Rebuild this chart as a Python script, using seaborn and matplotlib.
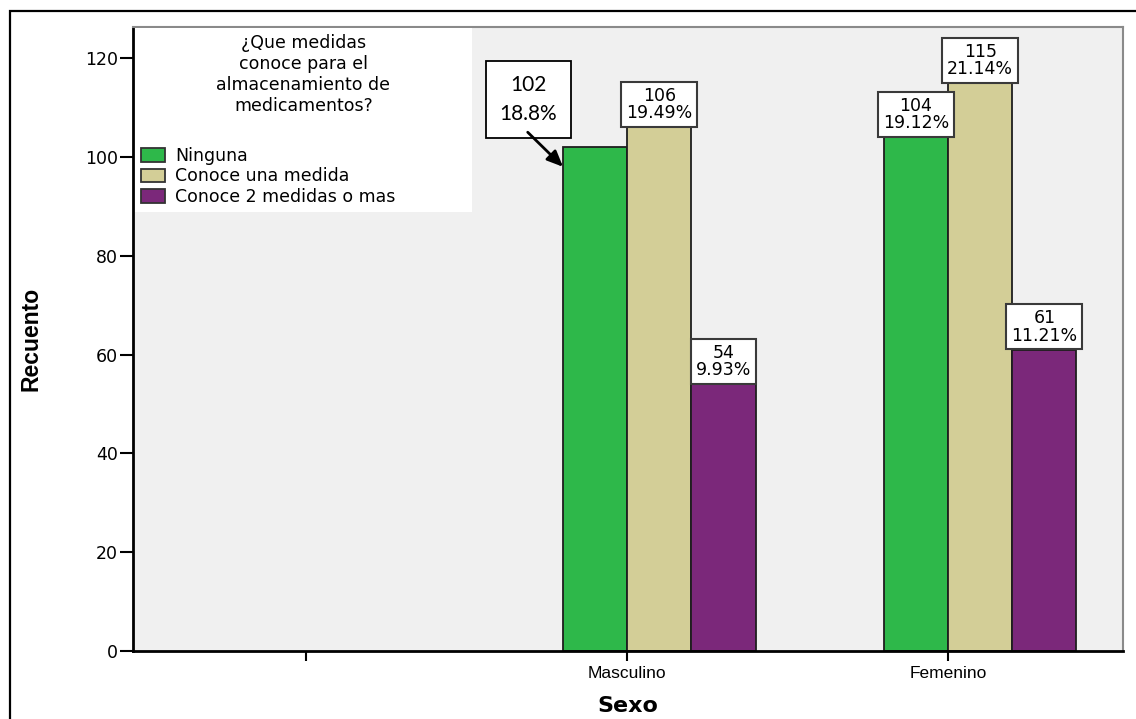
import numpy as np
import pandas as pd
import matplotlib
matplotlib.use("Agg")
import matplotlib.pyplot as plt
import matplotlib.patches as mpatches
import seaborn as sns

# Counts by sex and by how many storage measures are known
sexo = ["Masculino", "Masculino", "Masculino", "Femenino", "Femenino", "Femenino"]
medida = ["Ninguna", "Conoce una medida", "Conoce 2 medidas o mas",
          "Ninguna", "Conoce una medida", "Conoce 2 medidas o mas"]
recuento = [102, 106, 54, 104, 115, 61]
porcentaje = [18.8, 19.49, 9.93, 19.12, 21.14, 11.21]

# Category axis keeps an empty leading slot
orden_sexo = ["", "Masculino", "Femenino"]
orden_medida = ["Ninguna", "Conoce una medida", "Conoce 2 medidas o mas"]
colores = ["#2EB84A", "#D3CE97", "#7B287A"]
titulo_leyenda = "¿Que medidas\nconoce para el\nalmacenamiento de\nmedicamentos?"

df = pd.DataFrame({"Sexo": sexo, "Medida": medida,
                   "Recuento": recuento, "Porcentaje": porcentaje})

sns.set_theme(style="white")
plt.rcParams["font.family"] = ["DejaVu Sans"]
plt.rcParams["text.color"] = "black"
plt.rcParams["axes.labelcolor"] = "black"

fig = plt.figure(figsize=(11.36, 7.19), dpi=100)
ax = fig.add_axes([133 / 1136, 1 - 651 / 719, 990 / 1136, 624 / 719])
ax.set_facecolor("#F0F0F0")

ancho = 0.6
sns.barplot(data=df, x="Sexo", y="Recuento", hue="Medida",
            order=orden_sexo, hue_order=orden_medida, palette=colores,
            saturation=1, width=ancho, gap=0, edgecolor="#1E1E1E",
            linewidth=1.3, errorbar=None, ax=ax, zorder=2)

ax.set_xlim(-0.64, 2.445)
ax.set_ylim(0, 126.3)
ax.set_yticks([0, 20, 40, 60, 80, 100, 120])

# Category ticks sit at the left edge of the middle bar
paso = ancho / len(orden_medida)
ax.set_xticks(np.arange(len(orden_sexo)) - paso / 2, labels=orden_sexo)
ax.tick_params(axis="y", direction="out", length=9.5, width=1.5, pad=1.5,
               labelsize=12.5, colors="black", left=True)
ax.tick_params(axis="x", direction="out", length=7, width=1.5, pad=4,
               labelsize=12.5, colors="black", bottom=True)
for lab in ax.get_xticklabels():
    lab.set_family("Liberation Sans")

for lado in ["left", "bottom"]:
    ax.spines[lado].set_color("black")
    ax.spines[lado].set_linewidth(2)
for lado in ["top", "right"]:
    ax.spines[lado].set_color("#8A8A8A")
    ax.spines[lado].set_linewidth(1.5)

ax.set_ylabel("Recuento", fontsize=16.5, fontweight="bold",
              family="Liberation Sans", color="black")
ax.yaxis.set_label_coords(-0.091, 0.5)
ax.set_xlabel("Sexo", fontsize=16, fontweight="bold", color="black")
ax.xaxis.set_label_coords(0.5, -0.072)

# Value labels above each bar (the first one gets a callout box instead)
caja = dict(boxstyle="square,pad=0.28", facecolor="white",
            edgecolor="#3A3A3A", linewidth=1.5)
for k, fila in df.iterrows():
    i = orden_sexo.index(fila["Sexo"])
    j = orden_medida.index(fila["Medida"])
    xc = i + (j - (len(orden_medida) - 1) / 2) * paso
    texto = f"{fila['Recuento']}\n{fila['Porcentaje']:g}%"
    if fila["Sexo"] == "Masculino" and fila["Medida"] == "Ninguna":
        ax.text(xc - 0.208, fila["Recuento"] + 9.6, texto, ha="center",
                va="center", fontsize=15, family="Lato", linespacing=1.6,
                color="black", zorder=5,
                bbox=dict(boxstyle="square,pad=0.65", facecolor="white",
                          edgecolor="black", linewidth=1.3))
        ax.annotate("", xy=(xc - paso / 2, fila["Recuento"] - 4),
                    xytext=(xc - 0.21, fila["Recuento"] + 3.0),
                    arrowprops=dict(arrowstyle="-|>,head_length=0.8,head_width=0.35",
                                    color="black", lw=2, shrinkA=0, shrinkB=0),
                    zorder=6)
        continue
    ax.annotate(texto, xy=(xc, fila["Recuento"]), xytext=(0, 3.6),
                textcoords="offset points", ha="center", va="bottom",
                fontsize=12.5, linespacing=0.95, color="black", bbox=caja,
                zorder=4)

# Legend in a white panel at the upper left
handles, labels = ax.get_legend_handles_labels()
leg = ax.legend(handles, labels, title=titulo_leyenda, loc="upper left",
                bbox_to_anchor=(0.002, 0.998, 0.34, 0), mode="expand",
                borderaxespad=0, frameon=True, fancybox=False,
                facecolor="white", edgecolor="white", framealpha=1,
                fontsize=12.5, title_fontsize=12.5, alignment="center",
                handlelength=1.4, handleheight=0.85, handletextpad=0.55,
                labelspacing=0.16, borderpad=0.35, labelcolor="black")
leg.get_frame().set_linewidth(0)
leg.get_title().set_multialignment("center")
leg.get_title().set_color("black")
leg._legend_box.sep = 23
for h in leg.legend_handles:
    h.set_edgecolor("#333333")
    h.set_linewidth(1.3)
leg.set_zorder(3)

# Outer frame around the figure
marco = mpatches.Rectangle((10 / 1136, -0.1), 1.2, 0.1 + 1 - 11 / 719,
                           transform=fig.transFigure, fill=False,
                           edgecolor="black", linewidth=1.6, clip_on=False)
fig.add_artist(marco)

fig.savefig("out.png", dpi=100, facecolor="white")
